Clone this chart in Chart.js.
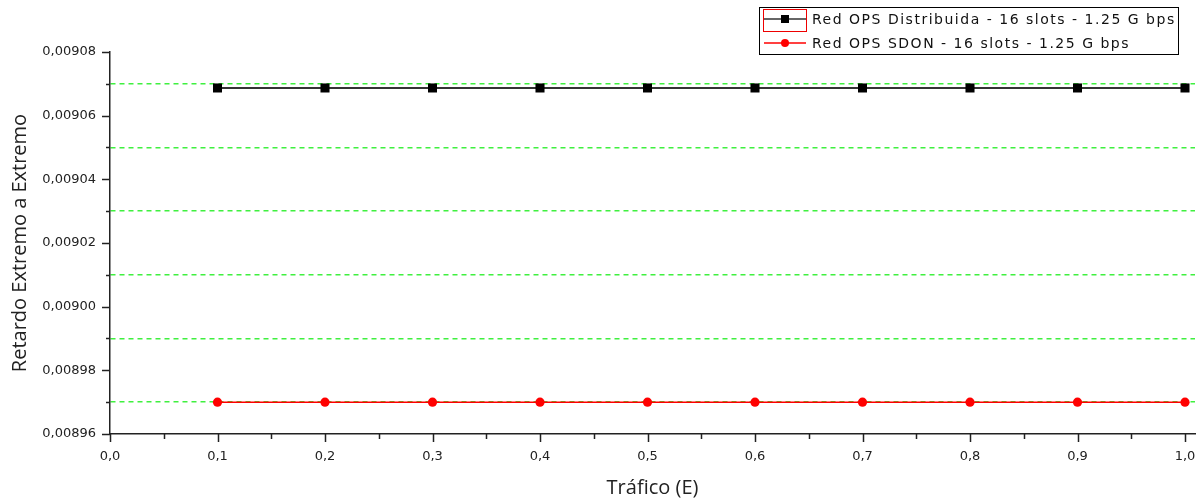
<!DOCTYPE html>
<html>
<head>
<meta charset="utf-8">
<script src="https://cdn.jsdelivr.net/npm/chart.js@4/dist/chart.umd.min.js"></script>
<style>
  html, body { margin: 0; padding: 0; background: #fff; }
  canvas { display: block; }
</style>
</head>
<body>
<canvas id="chart" width="1203" height="504"></canvas>
<script>
'use strict';

/* ── DATA ── */
const trafico = [0.1, 0.2, 0.3, 0.4, 0.5, 0.6, 0.7, 0.8, 0.9, 1.0];
const retardoDistribuida = [0.0090687, 0.0090687, 0.0090687, 0.0090687, 0.0090687, 0.0090687, 0.0090687, 0.0090687, 0.0090687, 0.0090687];
const retardoSdon = [0.00897, 0.00897, 0.00897, 0.00897, 0.00897, 0.00897, 0.00897, 0.00897, 0.00897, 0.00897];

const seriesNames = [
  'Red OPS Distribuida - 16 slots - 1.25 G bps',
  'Red OPS SDON - 16 slots - 1.25 G bps'
];

const yTickValues = [0.00896, 0.00897, 0.00898, 0.00899, 0.00900, 0.00901, 0.00902,
                     0.00903, 0.00904, 0.00905, 0.00906, 0.00907, 0.00908];
const yTickLabels = ['0,00896', '', '0,00898', '', '0,00900', '', '0,00902',
                     '', '0,00904', '', '0,00906', '', '0,00908'];

const xTickValues = [0, 0.05, 0.1, 0.15, 0.2, 0.25, 0.3, 0.35, 0.4, 0.45, 0.5,
                     0.55, 0.6, 0.65, 0.7, 0.75, 0.8, 0.85, 0.9, 0.95, 1.0];
const xTickLabels = ['0,0', '', '0,1', '', '0,2', '', '0,3', '', '0,4', '', '0,5',
                     '', '0,6', '', '0,7', '', '0,8', '', '0,9', '', '1,0'];

/* ── STYLE ── */
const gridGreen = '#3ff03f';
const axisColor = '#222';
const tickFont = { family: 'DejaVu Sans', size: 13 };
const titleFont = { family: 'Open Sans', size: 20 };

/* ── minor / major tick marks ── */
const tickMarks = {
  id: 'tickMarks',
  afterDraw(chart) {
    const { ctx, scales: { x, y } } = chart;
    ctx.save();
    ctx.strokeStyle = axisColor;
    ctx.lineWidth = 1.5;
    ctx.beginPath();
    y.ticks.forEach((t, i) => {
      const py = Math.round(y.getPixelForValue(t.value)) + 0.5;
      const len = yTickLabels[i] ? 8 : 4;
      ctx.moveTo(x.left - len, py);
      ctx.lineTo(x.left, py);
    });
    x.ticks.forEach((t, i) => {
      const px = Math.round(x.getPixelForValue(t.value)) + 0.5;
      const len = xTickLabels[i] ? 8 : 5;
      ctx.moveTo(px, y.bottom);
      ctx.lineTo(px, y.bottom + len);
    });
    ctx.stroke();
    ctx.restore();
  }
};

/* ── legend box (line + marker samples) ── */
const boxLegend = {
  id: 'boxLegend',
  afterDraw(chart) {
    const ctx = chart.ctx;
    const bx = 759.5, by = 7.5, bw = 419, bh = 47;
    const rows = [19, 43];
    ctx.save();
    ctx.fillStyle = '#fff';
    ctx.fillRect(bx, by, bw, bh);
    ctx.strokeStyle = '#000';
    ctx.lineWidth = 1;
    ctx.strokeRect(bx, by, bw, bh);

    // selection frame around first sample
    ctx.strokeStyle = '#e00';
    ctx.strokeRect(763.5, 9.5, 43, 22);

    ctx.font = '14px "DejaVu Sans"';
    // widen the text to the width seen in the picture
    const w0 = ctx.measureText(seriesNames[0]).width;
    const spacing = Math.max(0, (362 - w0) / (seriesNames[0].length - 1));
    ctx.letterSpacing = spacing.toFixed(2) + 'px';

    chart.data.datasets.forEach((ds, i) => {
      const cy = rows[i];
      ctx.strokeStyle = ds.borderColor;
      ctx.lineWidth = 1.5;
      ctx.beginPath();
      ctx.moveTo(764, cy);
      ctx.lineTo(806, cy);
      ctx.stroke();
      ctx.fillStyle = ds.pointBackgroundColor;
      if (ds.pointStyle === 'rect') {
        ctx.fillRect(781, cy - 4, 8, 8);
      } else {
        ctx.beginPath();
        ctx.arc(785, cy, 4, 0, Math.PI * 2);
        ctx.fill();
      }
      ctx.fillStyle = '#111';
      ctx.textBaseline = 'middle';
      ctx.fillText(seriesNames[i], 812, cy + 1);
    });
    ctx.restore();
  }
};

new Chart(document.getElementById('chart'), {
  type: 'line',
  data: {
    datasets: [
      {
        label: seriesNames[0],
        data: trafico.map((t, i) => ({ x: t, y: retardoDistribuida[i] })),
        borderColor: '#333',
        borderWidth: 2,
        pointStyle: 'rect',
        pointRadius: 6.4,
        pointBackgroundColor: '#000',
        pointBorderWidth: 0
      },
      {
        label: seriesNames[1],
        data: trafico.map((t, i) => ({ x: t, y: retardoSdon[i] })),
        borderColor: '#f00',
        borderWidth: 1.5,
        pointStyle: 'circle',
        pointRadius: 4.6,
        pointBackgroundColor: '#f00',
        pointBorderWidth: 0
      }
    ]
  },
  options: {
    responsive: false,
    animation: false,
    layout: { padding: { top: 52, right: 8, left: 8, bottom: 4 } },
    plugins: { legend: { display: false }, tooltip: { enabled: false } },
    scales: {
      x: {
        type: 'linear',
        min: 0,
        max: 1.0093,
        afterBuildTicks: s => { s.ticks = xTickValues.map(v => ({ value: v })); },
        afterFit: s => { s.height = 66; s.paddingLeft = 0; s.paddingRight = 0; },
        grid: { drawOnChartArea: false, drawTicks: false },
        border: { color: axisColor, width: 1.5 },
        ticks: {
          autoSkip: false,
          maxRotation: 0,
          padding: 15,
          color: '#222',
          font: tickFont,
          callback: (v, i) => xTickLabels[i]
        },
        title: { display: true, text: 'Tráfico (E)', color: '#222', font: titleFont, padding: 0 }
      },
      y: {
        type: 'linear',
        min: 0.00896,
        max: 0.00908,
        afterBuildTicks: s => { s.ticks = yTickValues.map(v => ({ value: v })); },
        afterFit: s => { s.width = 102; s.paddingTop = 0; s.paddingBottom = 0; },
        grid: {
          drawTicks: false,
          lineWidth: 1.5,
          color: c => (yTickLabels[c.index] === '' ? gridGreen : 'rgba(0,0,0,0)')
        },
        border: { color: axisColor, width: 1.5, dash: [5, 4] },
        ticks: {
          autoSkip: false,
          padding: 14,
          color: '#222',
          font: tickFont,
          callback: (v, i) => yTickLabels[i]
        },
        title: { display: true, text: 'Retardo Extremo a Extremo', color: '#222', font: titleFont, padding: 0 }
      }
    }
  },
  plugins: [tickMarks, boxLegend]
});
</script>
</body>
</html>
